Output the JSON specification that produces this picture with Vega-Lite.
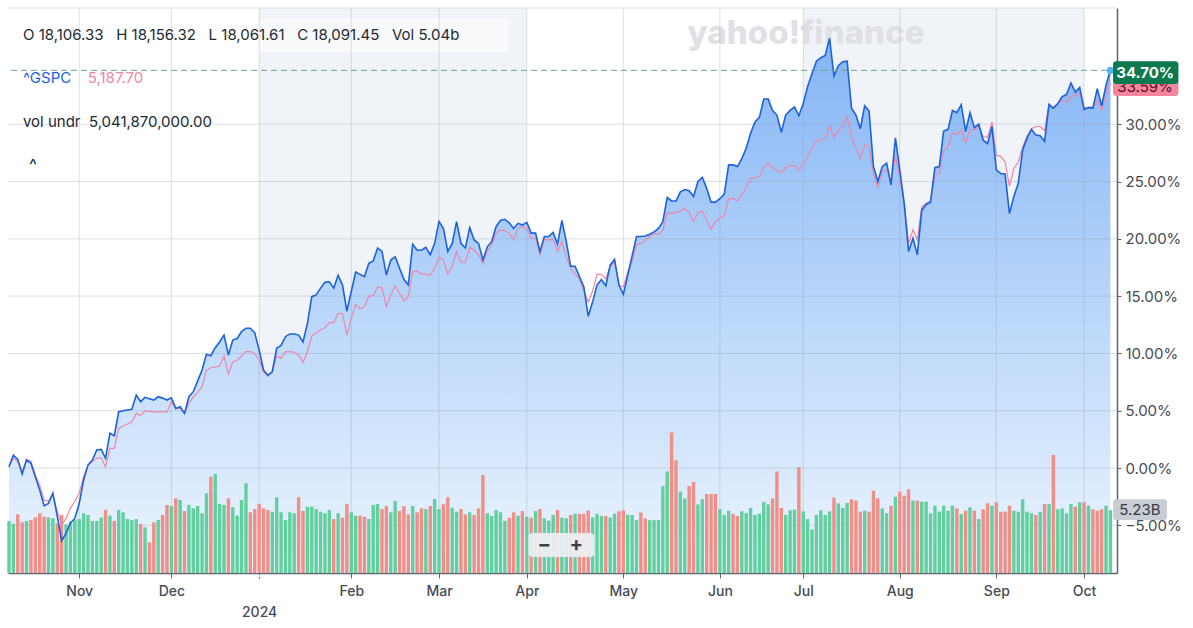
{
"$schema": "https://vega.github.io/schema/vega-lite/v6.json",
"width": 1109, "height": 565,
"autosize": {"type": "none"},
"padding": {"left": 8, "top": 8, "right": 76, "bottom": 55},
"background": "#ffffff",
"config": {"view": {"stroke": null}, "font": "Inter", "text": {"font": "Inter"}},
"datasets": {
"s": [
{"i":0,"b":0.11,"p":0.11,"v":4.33,"d":"u"},{"i":1,"b":1.13,"p":0.85,"v":4.10,"d":"u"},{"i":2,"b":0.76,"p":0.55,"v":4.88,"d":"d"},{"i":3,"b":-0.52,"p":-0.32,"v":4.22,"d":"d"},{"i":4,"b":0.70,"p":0.76,"v":4.33,"d":"u"},{"i":5,"b":0.41,"p":0.6,"v":4.41,"d":"d"},{"i":6,"b":-0.76,"p":-0.6,"v":4.63,"d":"d"},{"i":7,"b":-1.92,"p":-1.5,"v":4.97,"d":"d"},{"i":8,"b":-3.3,"p":-2.8,"v":4.68,"d":"d"},{"i":9,"b":-3.08,"p":-2.9,"v":4.63,"d":"u"},
{"i":10,"b":-2.2,"p":-2.36,"v":4.55,"d":"u"},{"i":11,"b":-4.2,"p":-3.8,"v":4.13,"d":"d"},{"i":12,"b":-6.34,"p":-4.97,"v":4.83,"d":"d"},{"i":13,"b":-5.7,"p":-4.4,"v":4.05,"d":"u"},{"i":14,"b":-4.8,"p":-3.5,"v":4.27,"d":"u"},{"i":15,"b":-4.4,"p":-2.9,"v":4.41,"d":"u"},{"i":16,"b":-3.1,"p":-2.2,"v":4.49,"d":"u"},{"i":17,"b":-1.05,"p":-0.76,"v":4.97,"d":"u"},{"i":18,"b":0.26,"p":0.26,"v":4.83,"d":"u"},{"i":19,"b":0.7,"p":0.55,"v":4.33,"d":"u"},
{"i":20,"b":1.57,"p":0.85,"v":4.33,"d":"u"},{"i":21,"b":1.63,"p":0.9,"v":4.60,"d":"u"},{"i":22,"b":0.85,"p":0.11,"v":5.24,"d":"d"},{"i":23,"b":3.03,"p":1.72,"v":4.77,"d":"u"},{"i":24,"b":2.82,"p":1.72,"v":4.33,"d":"d"},{"i":25,"b":4.91,"p":3.46,"v":5.24,"d":"u"},{"i":26,"b":5.0,"p":3.65,"v":5.05,"d":"u"},{"i":27,"b":5.06,"p":3.84,"v":4.49,"d":"u"},{"i":28,"b":5.12,"p":4.04,"v":4.41,"d":"u"},{"i":29,"b":6.37,"p":4.77,"v":4.49,"d":"u"},
{"i":30,"b":5.79,"p":4.6,"v":4.08,"d":"d"},{"i":31,"b":6.17,"p":5.0,"v":3.80,"d":"u"},{"i":32,"b":6.05,"p":4.95,"v":2.55,"d":"d"},{"i":33,"b":5.93,"p":4.9,"v":4.22,"d":"d"},{"i":34,"b":6.22,"p":4.9,"v":4.41,"d":"u"},{"i":35,"b":6.1,"p":4.9,"v":4.83,"d":"d"},{"i":36,"b":5.93,"p":4.9,"v":5.66,"d":"d"},{"i":37,"b":6.13,"p":5.79,"v":5.57,"d":"u"},{"i":38,"b":5.2,"p":5.2,"v":6.21,"d":"d"},{"i":39,"b":5.35,"p":5.2,"v":6.07,"d":"u"},
{"i":40,"b":4.77,"p":4.8,"v":5.16,"d":"d"},{"i":41,"b":6.22,"p":5.64,"v":5.66,"d":"u"},{"i":42,"b":6.66,"p":6.2,"v":5.38,"d":"u"},{"i":43,"b":7.6,"p":6.6,"v":5.57,"d":"u"},{"i":44,"b":8.55,"p":7.1,"v":4.97,"d":"u"},{"i":45,"b":9.92,"p":8.55,"v":6.63,"d":"u"},{"i":46,"b":9.8,"p":8.75,"v":8.01,"d":"d"},{"i":47,"b":10.5,"p":8.8,"v":8.24,"d":"u"},{"i":48,"b":11.0,"p":8.9,"v":5.74,"d":"u"},{"i":49,"b":11.6,"p":9.77,"v":5.66,"d":"u"},
{"i":50,"b":9.86,"p":8.2,"v":6.21,"d":"d"},{"i":51,"b":11.17,"p":9.28,"v":5.47,"d":"u"},{"i":52,"b":11.3,"p":9.4,"v":4.77,"d":"u"},{"i":53,"b":11.9,"p":9.77,"v":6.07,"d":"u"},{"i":54,"b":12.2,"p":10.15,"v":7.46,"d":"u"},{"i":55,"b":12.2,"p":10.15,"v":5.05,"d":"d"},{"i":56,"b":11.8,"p":10.0,"v":5.32,"d":"d"},{"i":57,"b":10.3,"p":9.4,"v":5.74,"d":"d"},{"i":58,"b":8.55,"p":8.4,"v":5.38,"d":"d"},{"i":59,"b":8.1,"p":8.0,"v":5.24,"d":"d"},
{"i":60,"b":8.4,"p":8.4,"v":5.10,"d":"u"},{"i":61,"b":10.45,"p":9.77,"v":6.30,"d":"u"},{"i":62,"b":10.7,"p":9.57,"v":5.05,"d":"u"},{"i":63,"b":11.46,"p":10.15,"v":4.41,"d":"u"},{"i":64,"b":11.7,"p":10.15,"v":5.05,"d":"u"},{"i":65,"b":11.7,"p":10.1,"v":4.97,"d":"u"},{"i":66,"b":11.6,"p":9.86,"v":6.30,"d":"d"},{"i":67,"b":11.0,"p":9.2,"v":5.16,"d":"d"},{"i":68,"b":12.6,"p":10.15,"v":5.52,"d":"u"},{"i":69,"b":14.95,"p":11.5,"v":5.52,"d":"u"},
{"i":70,"b":15.1,"p":11.8,"v":5.32,"d":"u"},{"i":71,"b":15.7,"p":12.04,"v":5.10,"d":"u"},{"i":72,"b":16.2,"p":12.24,"v":4.97,"d":"u"},{"i":73,"b":16.25,"p":12.68,"v":5.24,"d":"u"},{"i":74,"b":15.7,"p":12.68,"v":4.49,"d":"d"},{"i":75,"b":16.8,"p":13.5,"v":4.97,"d":"u"},{"i":76,"b":15.97,"p":13.45,"v":4.60,"d":"d"},{"i":77,"b":13.7,"p":11.6,"v":5.74,"d":"d"},{"i":78,"b":15.4,"p":13.06,"v":5.05,"d":"u"},{"i":79,"b":17.1,"p":14.28,"v":4.77,"d":"u"},
{"i":80,"b":16.9,"p":13.9,"v":4.77,"d":"d"},{"i":81,"b":16.7,"p":14.1,"v":4.68,"d":"d"},{"i":82,"b":17.86,"p":15.0,"v":4.49,"d":"u"},{"i":83,"b":18.06,"p":15.05,"v":5.66,"d":"u"},{"i":84,"b":19.2,"p":15.8,"v":5.74,"d":"u"},{"i":85,"b":18.9,"p":15.7,"v":5.32,"d":"d"},{"i":86,"b":16.84,"p":14.1,"v":5.57,"d":"d"},{"i":87,"b":18.15,"p":15.1,"v":5.05,"d":"u"},{"i":88,"b":18.44,"p":15.9,"v":5.99,"d":"u"},{"i":89,"b":17.43,"p":15.25,"v":5.16,"d":"d"},
{"i":90,"b":16.47,"p":14.6,"v":5.57,"d":"d"},{"i":91,"b":15.97,"p":14.95,"v":4.88,"d":"d"},{"i":92,"b":19.52,"p":17.13,"v":5.57,"d":"u"},{"i":93,"b":19.0,"p":17.2,"v":5.05,"d":"d"},{"i":94,"b":19.0,"p":16.9,"v":5.38,"d":"d"},{"i":95,"b":19.26,"p":16.95,"v":5.32,"d":"u"},{"i":96,"b":18.6,"p":16.8,"v":5.57,"d":"d"},{"i":97,"b":19.6,"p":17.43,"v":6.16,"d":"u"},{"i":98,"b":21.5,"p":18.35,"v":5.32,"d":"u"},{"i":99,"b":20.9,"p":18.15,"v":5.72,"d":"d"},
{"i":100,"b":18.9,"p":16.93,"v":6.30,"d":"d"},{"i":101,"b":19.6,"p":17.57,"v":5.43,"d":"u"},{"i":102,"b":21.5,"p":18.9,"v":5.10,"d":"u"},{"i":103,"b":19.6,"p":18.0,"v":5.32,"d":"d"},{"i":104,"b":19.2,"p":17.95,"v":4.88,"d":"d"},{"i":105,"b":20.97,"p":19.26,"v":5.05,"d":"u"},{"i":106,"b":19.9,"p":19.0,"v":4.83,"d":"d"},{"i":107,"b":19.6,"p":18.6,"v":5.38,"d":"d"},{"i":108,"b":18.15,"p":17.86,"v":8.15,"d":"d"},{"i":109,"b":19.3,"p":18.9,"v":4.97,"d":"u"},
{"i":110,"b":19.75,"p":19.46,"v":4.74,"d":"u"},{"i":111,"b":21.06,"p":20.48,"v":5.24,"d":"u"},{"i":112,"b":21.6,"p":20.77,"v":5.05,"d":"u"},{"i":113,"b":21.7,"p":20.7,"v":4.35,"d":"u"},{"i":114,"b":21.4,"p":20.48,"v":4.60,"d":"d"},{"i":115,"b":20.9,"p":19.95,"v":5.05,"d":"d"},{"i":116,"b":21.35,"p":20.9,"v":4.77,"d":"u"},{"i":117,"b":21.2,"p":21.06,"v":5.16,"d":"d"},{"i":118,"b":21.44,"p":20.9,"v":4.68,"d":"u"},{"i":119,"b":20.5,"p":20.04,"v":4.60,"d":"d"},
{"i":120,"b":20.5,"p":20.04,"v":5.16,"d":"u"},{"i":121,"b":18.9,"p":18.6,"v":5.32,"d":"d"},{"i":122,"b":20.2,"p":19.95,"v":4.55,"d":"u"},{"i":123,"b":20.2,"p":19.9,"v":4.35,"d":"u"},{"i":124,"b":20.56,"p":19.95,"v":4.83,"d":"u"},{"i":125,"b":19.55,"p":18.9,"v":5.24,"d":"d"},{"i":126,"b":21.6,"p":19.75,"v":4.60,"d":"u"},{"i":127,"b":19.75,"p":18.44,"v":4.55,"d":"u"},{"i":128,"b":17.6,"p":17.43,"v":4.83,"d":"d"},{"i":129,"b":17.6,"p":16.9,"v":4.93,"d":"u"},
{"i":130,"b":16.7,"p":16.5,"v":4.93,"d":"d"},{"i":131,"b":15.8,"p":15.45,"v":4.93,"d":"d"},{"i":132,"b":13.24,"p":14.5,"v":5.21,"d":"d"},{"i":133,"b":14.5,"p":15.45,"v":4.63,"d":"u"},{"i":134,"b":15.97,"p":16.9,"v":4.93,"d":"u"},{"i":135,"b":16.45,"p":16.9,"v":4.75,"d":"u"},{"i":136,"b":15.9,"p":16.5,"v":4.75,"d":"d"},{"i":137,"b":17.7,"p":17.6,"v":4.63,"d":"u"},{"i":138,"b":18.2,"p":18.0,"v":4.93,"d":"u"},{"i":139,"b":15.97,"p":15.97,"v":5.13,"d":"d"},
{"i":140,"b":15.15,"p":15.8,"v":5.21,"d":"d"},{"i":141,"b":16.8,"p":17.1,"v":4.83,"d":"u"},{"i":142,"b":18.5,"p":18.0,"v":4.83,"d":"u"},{"i":143,"b":20.2,"p":19.5,"v":4.40,"d":"u"},{"i":144,"b":20.2,"p":19.6,"v":5.04,"d":"d"},{"i":145,"b":20.24,"p":19.85,"v":4.54,"d":"d"},{"i":146,"b":20.4,"p":20.2,"v":4.40,"d":"u"},{"i":147,"b":20.6,"p":20.45,"v":4.40,"d":"u"},{"i":148,"b":20.9,"p":20.36,"v":4.40,"d":"u"},{"i":149,"b":21.5,"p":20.75,"v":7.24,"d":"u"},
{"i":150,"b":23.6,"p":22.27,"v":8.45,"d":"u"},{"i":151,"b":23.3,"p":22.2,"v":11.69,"d":"d"},{"i":152,"b":23.3,"p":22.3,"v":9.38,"d":"d"},{"i":153,"b":24.1,"p":22.4,"v":6.77,"d":"u"},{"i":154,"b":24.3,"p":22.67,"v":6.20,"d":"u"},{"i":155,"b":24.2,"p":22.27,"v":7.24,"d":"d"},{"i":156,"b":23.7,"p":21.5,"v":7.58,"d":"d"},{"i":157,"b":25.0,"p":22.27,"v":5.70,"d":"u"},{"i":158,"b":25.36,"p":22.4,"v":6.14,"d":"u"},{"i":159,"b":24.4,"p":21.6,"v":6.57,"d":"d"},
{"i":160,"b":23.2,"p":20.8,"v":6.57,"d":"d"},{"i":161,"b":23.2,"p":21.5,"v":6.57,"d":"d"},{"i":162,"b":23.5,"p":21.8,"v":5.32,"d":"u"},{"i":163,"b":23.9,"p":22.0,"v":4.83,"d":"u"},{"i":164,"b":26.45,"p":23.5,"v":5.18,"d":"u"},{"i":165,"b":26.45,"p":23.5,"v":4.93,"d":"d"},{"i":166,"b":26.3,"p":23.3,"v":4.75,"d":"d"},{"i":167,"b":27.0,"p":23.85,"v":5.13,"d":"u"},{"i":168,"b":27.9,"p":24.45,"v":4.98,"d":"u"},{"i":169,"b":29.2,"p":25.3,"v":5.41,"d":"u"},
{"i":170,"b":30.2,"p":25.3,"v":4.83,"d":"u"},{"i":171,"b":30.6,"p":25.45,"v":4.93,"d":"u"},{"i":172,"b":32.2,"p":26.2,"v":5.91,"d":"u"},{"i":173,"b":32.2,"p":26.6,"v":5.70,"d":"u"},{"i":174,"b":31.2,"p":26.2,"v":6.20,"d":"d"},{"i":175,"b":30.8,"p":25.97,"v":8.45,"d":"d"},{"i":176,"b":29.3,"p":25.76,"v":5.41,"d":"d"},{"i":177,"b":30.8,"p":26.2,"v":4.83,"d":"u"},{"i":178,"b":31.2,"p":26.4,"v":5.21,"d":"u"},{"i":179,"b":31.5,"p":26.4,"v":5.27,"d":"u"},
{"i":180,"b":30.76,"p":25.97,"v":8.79,"d":"d"},{"i":181,"b":31.8,"p":26.5,"v":5.13,"d":"u"},{"i":182,"b":33.3,"p":27.27,"v":4.49,"d":"u"},{"i":183,"b":34.4,"p":27.9,"v":3.62,"d":"u"},{"i":184,"b":35.5,"p":28.5,"v":4.83,"d":"u"},{"i":185,"b":35.8,"p":28.6,"v":5.21,"d":"u"},{"i":186,"b":36.0,"p":28.7,"v":4.83,"d":"u"},{"i":187,"b":37.5,"p":29.85,"v":5.13,"d":"u"},{"i":188,"b":34.2,"p":28.85,"v":6.28,"d":"d"},{"i":189,"b":35.1,"p":29.4,"v":5.78,"d":"u"},
{"i":190,"b":35.45,"p":29.9,"v":5.41,"d":"u"},{"i":191,"b":35.5,"p":30.65,"v":5.82,"d":"u"},{"i":192,"b":31.4,"p":28.9,"v":6.13,"d":"d"},{"i":193,"b":30.8,"p":27.9,"v":6.02,"d":"d"},{"i":194,"b":29.6,"p":27.0,"v":5.10,"d":"d"},{"i":195,"b":31.6,"p":28.2,"v":5.18,"d":"u"},{"i":196,"b":31.15,"p":28.0,"v":5.10,"d":"d"},{"i":197,"b":26.3,"p":25.7,"v":6.85,"d":"d"},{"i":198,"b":25.0,"p":24.5,"v":6.21,"d":"d"},{"i":199,"b":26.3,"p":25.85,"v":5.38,"d":"u"},
{"i":200,"b":26.6,"p":26.0,"v":4.97,"d":"u"},{"i":201,"b":24.7,"p":25.0,"v":5.60,"d":"d"},{"i":202,"b":28.8,"p":27.2,"v":6.35,"d":"u"},{"i":203,"b":26.0,"p":25.4,"v":6.76,"d":"d"},{"i":204,"b":23.1,"p":23.1,"v":6.43,"d":"d"},{"i":205,"b":18.9,"p":19.6,"v":6.96,"d":"d"},{"i":206,"b":20.04,"p":20.8,"v":6.02,"d":"u"},{"i":207,"b":18.6,"p":19.9,"v":6.02,"d":"d"},{"i":208,"b":22.5,"p":22.8,"v":5.93,"d":"u"},{"i":209,"b":23.0,"p":23.1,"v":5.93,"d":"u"},
{"i":210,"b":23.2,"p":23.3,"v":4.97,"d":"u"},{"i":211,"b":26.2,"p":25.57,"v":5.60,"d":"u"},{"i":212,"b":26.3,"p":25.7,"v":5.10,"d":"u"},{"i":213,"b":29.4,"p":27.75,"v":5.60,"d":"u"},{"i":214,"b":29.55,"p":28.0,"v":5.18,"d":"u"},{"i":215,"b":31.2,"p":29.26,"v":5.60,"d":"u"},{"i":216,"b":31.0,"p":29.1,"v":5.38,"d":"d"},{"i":217,"b":31.7,"p":29.55,"v":4.91,"d":"u"},{"i":218,"b":29.35,"p":28.4,"v":5.18,"d":"d"},{"i":219,"b":31.0,"p":29.55,"v":5.47,"d":"u"},
{"i":220,"b":29.7,"p":29.5,"v":5.18,"d":"d"},{"i":221,"b":30.0,"p":29.8,"v":4.49,"d":"u"},{"i":222,"b":28.6,"p":28.9,"v":5.30,"d":"d"},{"i":223,"b":28.3,"p":28.85,"v":5.80,"d":"d"},{"i":224,"b":29.8,"p":30.2,"v":5.60,"d":"u"},{"i":225,"b":26.0,"p":27.3,"v":5.88,"d":"d"},{"i":226,"b":25.7,"p":27.2,"v":5.10,"d":"d"},{"i":227,"b":25.65,"p":26.7,"v":5.10,"d":"d"},{"i":228,"b":22.2,"p":24.6,"v":5.60,"d":"d"},{"i":229,"b":23.7,"p":26.15,"v":5.18,"d":"u"},
{"i":230,"b":24.85,"p":26.7,"v":5.10,"d":"u"},{"i":231,"b":27.75,"p":28.0,"v":6.13,"d":"u"},{"i":232,"b":28.8,"p":28.97,"v":5.10,"d":"u"},{"i":233,"b":29.55,"p":29.6,"v":4.97,"d":"u"},{"i":234,"b":29.06,"p":29.8,"v":4.83,"d":"d"},{"i":235,"b":29.0,"p":29.8,"v":5.10,"d":"u"},{"i":236,"b":28.5,"p":29.45,"v":5.74,"d":"d"},{"i":237,"b":31.7,"p":31.8,"v":5.74,"d":"u"},{"i":238,"b":31.4,"p":31.4,"v":9.82,"d":"d"},{"i":239,"b":31.8,"p":31.8,"v":5.30,"d":"u"},
{"i":240,"b":32.4,"p":32.1,"v":5.38,"d":"u"},{"i":241,"b":32.6,"p":31.9,"v":4.97,"d":"u"},{"i":242,"b":33.6,"p":32.4,"v":5.74,"d":"u"},{"i":243,"b":32.8,"p":32.55,"v":5.52,"d":"d"},{"i":244,"b":33.2,"p":32.75,"v":5.88,"d":"u"},{"i":245,"b":31.3,"p":31.4,"v":5.88,"d":"d"},{"i":246,"b":31.45,"p":31.5,"v":5.60,"d":"u"},{"i":247,"b":31.4,"p":31.5,"v":5.30,"d":"d"},{"i":248,"b":33.1,"p":32.1,"v":5.18,"d":"d"},{"i":249,"b":31.6,"p":31.2,"v":5.30,"d":"d"},
{"i":250,"b":33.4,"p":32.7,"v":5.60,"d":"u"},{"i":251,"b":34.7,"p":33.59,"v":5.23,"d":"u"}
],
"q": [{"a":57,"b":118},{"a":181,"b":245}],
"mx": [{"m":16},{"m":37},{"m":57},{"m":78},{"m":98},{"m":118},{"m":140},{"m":162},{"m":181},{"m":203},{"m":225},{"m":245}],
"gy": [{"g":-5},{"g":0},{"g":5},{"g":10},{"g":15},{"g":20},{"g":25},{"g":30}],
"one": [{"k":1}]
},
"layer": [
{
"layer": [
{"data": {"name": "q"}, "mark": {"type": "rect", "color": "#f0f3f7"},
 "encoding": {"x": {"field": "a", "type": "quantitative", "title": null, "scale": {"domain": [-0.227, 252.5], "nice": false, "zero": false, "padding": 0}}, "x2": {"field": "b"}}},
{"data": {"name": "one"}, "mark": {"type": "rect", "color": "#ffffff", "opacity": 0.5},
 "encoding": {"x": {"datum": 1, "title": null}, "x2": {"datum": 113.9}, "y": {"datum": 39.27, "title": null}, "y2": {"datum": 36.3}}},
{"data": {"name": "one"}, "mark": {"type": "text", "text": "yahoo!finance", "font": "Inter", "fontSize": 33, "fontWeight": 800, "color": "#dfe1e6", "align": "center", "baseline": "middle"},
 "encoding": {"x": {"datum": 181.6, "title": null}, "y": {"datum": 37.87, "title": null}}},
{"data": {"name": "s"},
 "mark": {"type": "area", "line": false, "fill": {"gradient": "linear", "x1": 0, "y1": 0, "x2": 0, "y2": 1, "stops": [{"offset": 0, "color": "#85b4f5"}, {"offset": 0.5, "color": "#b8d6fa"}, {"offset": 1, "color": "#edf5fe"}]}},
 "encoding": {
  "x": {"field": "i", "type": "quantitative", "title": null, "scale": {"domain": [-0.227, 252.5], "nice": false, "zero": false, "padding": 0},
   "axis": {"values": [16,37,57,78,98,118,140,162,181,203,225,245],
    "labelExpr": "datum.value == 57 ? ['', '2024'] : ['Nov','Dec','','Feb','Mar','Apr','May','Jun','Jul','Aug','Sep','Oct'][indexof([16,37,57,78,98,118,140,162,181,203,225,245], datum.value)]",
    "grid": false, "domainColor": "#5f6570", "domainWidth": 1.5, "tickColor": "#5f6570", "tickSize": 5, "tickWidth": 1,
    "tickDash": {"condition": {"test": "datum.value == 57", "value": [1.5, 2]}, "value": []},
    "labelFont": "Inter", "labelFontSize": 14, "labelFontWeight": 500, "labelColor": "#464b55", "labelPadding": 6, "labelLineHeight": 21,
    "labelOverlap": false, "labelFlush": false}},
  "y": {"field": "b", "type": "quantitative", "title": null, "scale": {"domain": [-9.16, 40.14], "nice": false, "zero": false},
   "axis": {"orient": "right", "values": [-5,0,5,10,15,20,25,30], "labelExpr": "format(datum.value, '.2f') + '%'",
    "grid": false, "domainColor": "#5f6570", "domainWidth": 1.5, "tickColor": "#5f6570", "tickSize": 4,
    "labelFont": "Inter", "labelFontSize": 15, "labelColor": "#464b55", "labelPadding": 4, "labelOverlap": false, "labelFlush": false}},
  "y2": {"datum": -9.16}}},
{"data": {"name": "mx"}, "mark": {"type": "rule", "color": "#8f99a8", "opacity": 0.3, "strokeWidth": 1},
 "encoding": {"x": {"field": "m", "type": "quantitative", "title": null}}},
{"data": {"name": "gy"}, "mark": {"type": "rule", "color": "#8f99a8", "opacity": 0.3, "strokeWidth": 1},
 "encoding": {"y": {"field": "g", "type": "quantitative", "title": null}}},
{"data": {"name": "one"}, "mark": {"type": "rule", "color": "#dcdfe4", "strokeWidth": 1},
 "encoding": {"y": {"datum": 40.14, "title": null}}}
]
},
{
"data": {"name": "s"},
"mark": {"type": "bar", "width": 3.4},
"encoding": {
 "x": {"field": "i", "type": "quantitative", "title": null, "scale": {"domain": [-0.227, 252.5], "nice": false, "zero": false, "padding": 0}},
 "y": {"field": "v", "type": "quantitative", "scale": {"domain": [0, 47], "nice": false}, "axis": null},
 "color": {"field": "d", "type": "nominal", "scale": {"domain": ["u", "d"], "range": ["#62cf9f", "#f08e88"]}, "legend": null}}
},
{
"layer": [
{"data": {"name": "s"}, "mark": {"type": "line", "color": "#ee87a7", "strokeWidth": 1.2},
 "encoding": {"x": {"field": "i", "type": "quantitative", "title": null}, "y": {"field": "p", "type": "quantitative", "axis": null, "scale": {"domain": [-9.16, 40.14], "nice": false, "zero": false}}}},
{"data": {"name": "s"}, "mark": {"type": "line", "color": "#1b62dd", "strokeWidth": 1.6},
 "encoding": {"x": {"field": "i", "type": "quantitative", "title": null}, "y": {"field": "b", "type": "quantitative", "axis": null, "scale": {"domain": [-9.16, 40.14], "nice": false, "zero": false}}}},
{"data": {"name": "one"}, "mark": {"type": "rule", "color": "#6fa193", "strokeDash": [6, 4], "strokeWidth": 1},
 "encoding": {"y": {"datum": 34.7, "axis": null}}},
{"data": {"name": "one"}, "mark": {"type": "point", "filled": true, "color": "#52b3f3", "size": 55, "opacity": 1},
 "encoding": {"x": {"datum": 251, "title": null}, "y": {"datum": 34.7, "axis": null}}},
{"data": {"name": "one"}, "mark": {"type": "rect", "color": "#f3859f", "cornerRadius": 3},
 "encoding": {"x": {"datum": 251.6, "title": null}, "x2": {"datum": 266.5}, "y": {"datum": 34.03, "axis": null}, "y2": {"datum": 32.46}}},
{"data": {"name": "one"}, "mark": {"type": "text", "text": "33.59%", "fontSize": 15, "color": "#5c1020", "align": "center", "baseline": "middle"},
 "encoding": {"x": {"datum": 258.9, "title": null}, "y": {"datum": 33.25, "axis": null}}},
{"data": {"name": "one"}, "mark": {"type": "rect", "color": "#0c7a4e", "cornerRadius": 3},
 "encoding": {"x": {"datum": 251.6, "title": null}, "x2": {"datum": 266.5}, "y": {"datum": 35.5, "axis": null}, "y2": {"datum": 33.5}}},
{"data": {"name": "one"}, "mark": {"type": "text", "text": "34.70%", "fontSize": 15, "fontWeight": "bold", "color": "#ffffff", "align": "center", "baseline": "middle"},
 "encoding": {"x": {"datum": 258.9, "title": null}, "y": {"datum": 34.5, "axis": null}}},
{"data": {"name": "one"}, "mark": {"type": "rect", "color": "#c8ccd3", "cornerRadius": 3},
 "encoding": {"x": {"datum": 251.6, "title": null}, "x2": {"datum": 263.9}, "y": {"datum": -2.73, "axis": null}, "y2": {"datum": -4.54}}},
{"data": {"name": "one"}, "mark": {"type": "text", "text": "5.23B", "fontSize": 15, "color": "#353b46", "align": "center", "baseline": "middle"},
 "encoding": {"x": {"datum": 257.7, "title": null}, "y": {"datum": -3.66, "axis": null}}},
{"data": {"name": "one"}, "mark": {"type": "rect", "color": "#eef0f4", "opacity": 0.92, "cornerRadius": 4},
 "encoding": {"x": {"datum": 118.4, "title": null}, "x2": {"datum": 133.4}, "y": {"datum": -5.67, "axis": null}, "y2": {"datum": -7.77}}},
{"data": {"name": "one"}, "mark": {"type": "text", "text": "−", "fontSize": 20, "fontWeight": "bold", "color": "#3b4049", "align": "center", "baseline": "middle"},
 "encoding": {"x": {"datum": 122.0, "title": null}, "y": {"datum": -6.72, "axis": null}}},
{"data": {"name": "one"}, "mark": {"type": "text", "text": "+", "fontSize": 20, "fontWeight": "bold", "color": "#3b4049", "align": "center", "baseline": "middle"},
 "encoding": {"x": {"datum": 129.3, "title": null}, "y": {"datum": -6.72, "axis": null}}},
{"data": {"name": "one"}, "mark": {"type": "text", "text": "O 18,106.33\u00a0\u00a0 H 18,156.32\u00a0\u00a0 L 18,061.61\u00a0\u00a0 C 18,091.45\u00a0\u00a0 Vol 5.04b", "fontSize": 15, "color": "#232a31", "align": "left", "baseline": "middle"},
 "encoding": {"x": {"datum": 3.18, "title": null}, "y": {"datum": 37.78, "axis": null}}},
{"data": {"name": "one"}, "mark": {"type": "text", "text": "^GSPC", "fontSize": 15, "color": "#1b62dd", "align": "left", "baseline": "middle"},
 "encoding": {"x": {"datum": 3.18, "title": null}, "y": {"datum": 34.03, "axis": null}}},
{"data": {"name": "one"}, "mark": {"type": "text", "text": "5,187.70", "fontSize": 15, "color": "#ef86a5", "align": "left", "baseline": "middle"},
 "encoding": {"x": {"datum": 17.95, "title": null}, "y": {"datum": 34.03, "axis": null}}},
{"data": {"name": "one"}, "mark": {"type": "text", "text": "vol undr\u00a0 5,041,870,000.00", "fontSize": 15, "color": "#232a31", "align": "left", "baseline": "middle"},
 "encoding": {"x": {"datum": 3.18, "title": null}, "y": {"datum": 30.22, "axis": null}}},
{"data": {"name": "one"}, "mark": {"type": "text", "text": "^", "fontSize": 17, "color": "#232a31", "align": "center", "baseline": "middle"},
 "encoding": {"x": {"datum": 5.45, "title": null}, "y": {"datum": 26.35, "axis": null}}}
]
}
],
"resolve": {"scale": {"y": "independent", "color": "independent"}}
}
